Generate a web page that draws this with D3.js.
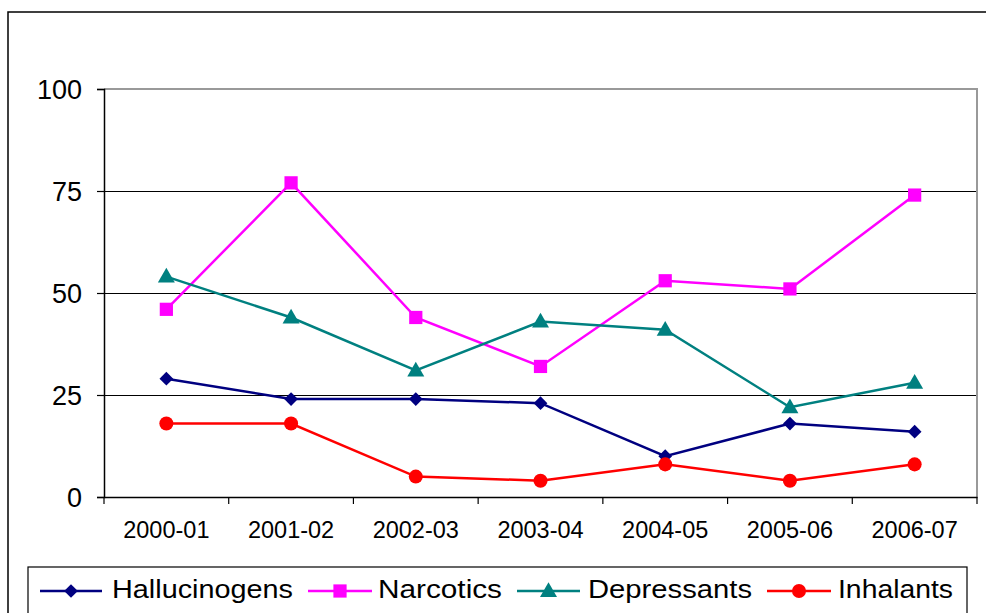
<!DOCTYPE html>
<html>
<head>
<meta charset="utf-8">
<script src="https://cdn.jsdelivr.net/npm/d3@7"></script>
<style>
  html, body { margin: 0; padding: 0; background: #fff; }
  svg { display: block; font-family: "Liberation Sans", Arial, sans-serif; }
</style>
</head>
<body>
<svg id="chart" width="986" height="613"></svg>
<script>
const categories = ["2000-01", "2001-02", "2002-03", "2003-04", "2004-05", "2005-06", "2006-07"];
const yTicks = [0, 25, 50, 75, 100];
const seriesNames = ["Hallucinogens", "Narcotics", "Depressants", "Inhalants"];
const hallucinogens = [29, 24, 24, 23, 10, 18, 16];
const narcotics = [46, 77, 44, 32, 53, 51, 74];
const depressants = [54, 44, 31, 43, 41, 22, 28];
const inhalants = [18, 18, 5, 4, 8, 4, 8];
const seriesColors = ["#000080", "#FF00FF", "#008080", "#FF0000"];
const seriesSymbols = [d3.symbolDiamond2, d3.symbolSquare, d3.symbolTriangle, d3.symbolCircle];

const series = [
  { name: seriesNames[0], values: hallucinogens, color: seriesColors[0], symbol: seriesSymbols[0], size: 120 },
  { name: seriesNames[1], values: narcotics, color: seriesColors[1], symbol: seriesSymbols[1], size: 175 },
  { name: seriesNames[2], values: depressants, color: seriesColors[2], symbol: seriesSymbols[2], size: 125 },
  { name: seriesNames[3], values: inhalants, color: seriesColors[3], symbol: seriesSymbols[3], size: 155 }
];

const svg = d3.select("#chart");
const plot = { left: 104, right: 977, top: 89, bottom: 497 };

// outer chart border
svg.append("rect").attr("x", 8).attr("y", 12).attr("width", 1000).attr("height", 700)
  .attr("fill", "#fff").attr("stroke", "#000").attr("stroke-width", 1.5);

const x = d3.scaleBand().domain(categories).range([plot.left, plot.right]).padding(0);
const y = d3.scaleLinear().domain([0, 100]).range([plot.bottom, plot.top]);

// gridlines
svg.append("g").selectAll("line").data(yTicks.filter(t => t > 0 && t < 100)).join("line")
  .attr("x1", plot.left).attr("x2", plot.right)
  .attr("y1", d => y(d) + 0.5).attr("y2", d => y(d) + 0.5)
  .attr("stroke", "#000").attr("stroke-width", 1);

// plot border (top/right gray)
svg.append("path")
  .attr("d", `M${plot.left},${y(100)} H${plot.right} V${plot.bottom}`)
  .attr("fill", "none").attr("stroke", "#999").attr("stroke-width", 2);

// y axis
const yAxis = d3.axisLeft(y).tickValues(yTicks).tickSize(7).tickPadding(15);
const gy = svg.append("g").attr("transform", `translate(${plot.left},0)`).call(yAxis);
gy.select(".domain").attr("stroke", "#000").attr("stroke-width", 1.5);
gy.selectAll(".tick line").attr("stroke", "#000").attr("stroke-width", 1.2);
gy.selectAll(".tick text").attr("font-size", 27).attr("fill", "#000")
  .attr("font-family", "Liberation Sans, Arial, sans-serif").attr("dy", "0.35em");

// x axis (ticks at band boundaries)
const xAxis = d3.axisBottom(x).tickSize(0).tickPadding(24);
const gx = svg.append("g").attr("transform", `translate(0,${plot.bottom})`).call(xAxis);
gx.select(".domain").attr("stroke", "#000").attr("stroke-width", 1.5);
gx.selectAll(".tick text").attr("font-size", 23.5).attr("fill", "#000")
  .attr("font-family", "Liberation Sans, Arial, sans-serif");
const boundaries = categories.map(c => x(c)).concat([x.range()[1]]);
gx.append("g").selectAll("line").data(boundaries).join("line")
  .attr("x1", d => d).attr("x2", d => d).attr("y1", 0).attr("y2", 7)
  .attr("stroke", "#000").attr("stroke-width", 1.2);

// lines & markers
const line = d3.line().x((d, i) => x(categories[i]) + x.bandwidth() / 2).y(d => y(d));
series.forEach(s => {
  svg.append("path").datum(s.values).attr("d", line)
    .attr("fill", "none").attr("stroke", s.color).attr("stroke-width", 2.5);
  svg.append("g").selectAll("path").data(s.values).join("path")
    .attr("transform", (d, i) => `translate(${x(categories[i]) + x.bandwidth() / 2},${y(d) + (s.symbol === d3.symbolTriangle ? 1 : 0)})`)
    .attr("d", d3.symbol().type(s.symbol).size(s.size))
    .attr("fill", s.color);
});

// legend
svg.append("rect").attr("x", 28).attr("y", 567).attr("width", 939).attr("height", 100)
  .attr("fill", "#fff").attr("stroke", "#000").attr("stroke-width", 1.2);
const legendItems = [
  { lx1: 40, lx2: 102, tx: 112, tw: 181 },
  { lx1: 308, lx2: 372, tx: 378, tw: 124 },
  { lx1: 517, lx2: 580, tx: 588, tw: 164 },
  { lx1: 767, lx2: 831, tx: 838, tw: 115 }
];
const ly = 591;
series.forEach((s, i) => {
  const it = legendItems[i];
  const g = svg.append("g");
  g.append("line").attr("x1", it.lx1).attr("x2", it.lx2).attr("y1", ly).attr("y2", ly)
    .attr("stroke", s.color).attr("stroke-width", 2.5);
  g.append("path").attr("transform", `translate(${(it.lx1 + it.lx2) / 2},${ly + (s.symbol === d3.symbolTriangle ? 1 : 0)})`)
    .attr("d", d3.symbol().type(s.symbol).size(s.size)).attr("fill", s.color);
  g.append("text").attr("x", it.tx).attr("y", 598).attr("font-size", 26)
    .attr("textLength", it.tw).attr("lengthAdjust", "spacingAndGlyphs")
    .attr("fill", "#000").text(s.name);
});
</script>
</body>
</html>
